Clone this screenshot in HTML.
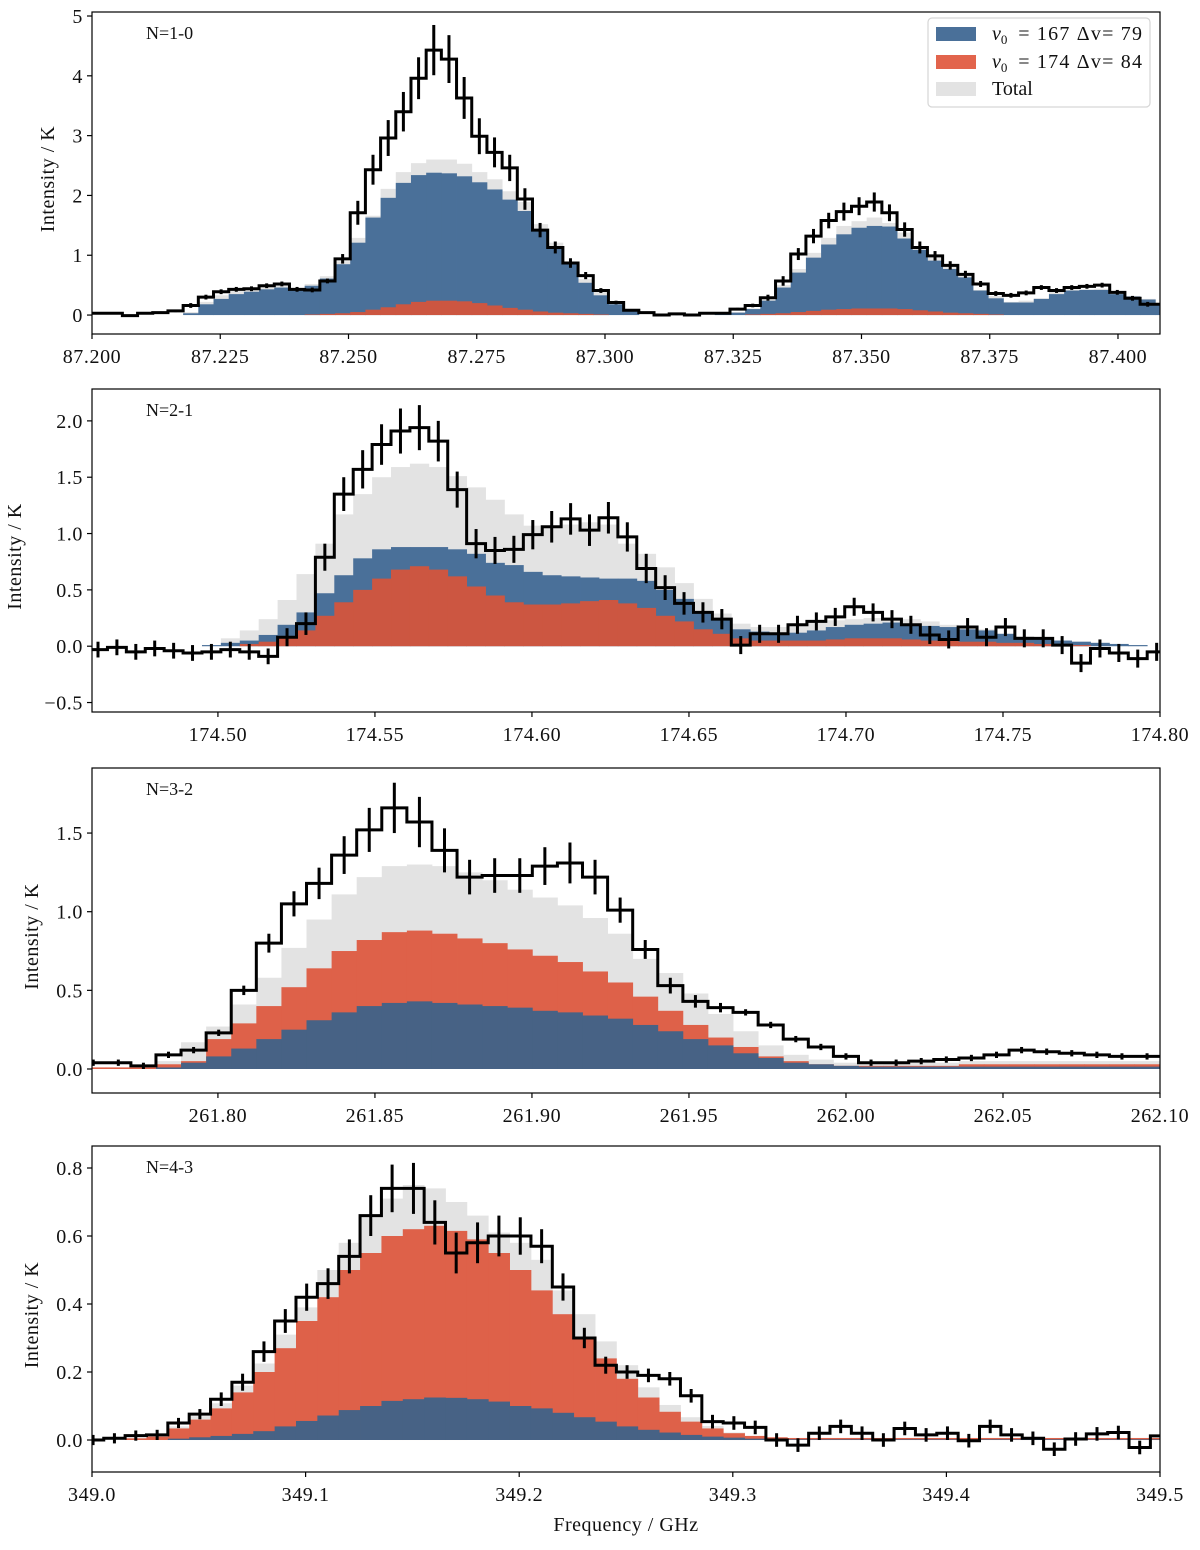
<!DOCTYPE html>
<html><head><meta charset="utf-8">
<style>
html,body{margin:0;padding:0;background:#fff;}
svg text{font-family:"Liberation Serif","DejaVu Serif",serif;fill:#111;}
</style></head>
<body>
<svg id="fig" width="1200" height="1545" viewBox="0 0 1200 1545" xmlns="http://www.w3.org/2000/svg">
<rect x="0" y="0" width="1200" height="1545" fill="#fff"/>
</svg>
<script>
// ---------- Panel 1: N=1-0 ----------
const p1Obs=[0.03,0.03,-0.01,0.03,0.04,0.07,0.16,0.3,0.39,0.43,0.44,0.49,0.52,0.43,0.42,0.57,0.94,1.71,2.43,2.96,3.4,3.96,4.43,4.28,3.63,2.99,2.72,2.46,1.94,1.42,1.13,0.87,0.66,0.41,0.21,0.08,0.04,0,0.02,0,0.03,0.03,0.1,0.16,0.29,0.57,1.02,1.32,1.58,1.73,1.82,1.89,1.71,1.43,1.13,0.99,0.83,0.68,0.52,0.36,0.33,0.37,0.46,0.41,0.46,0.48,0.5,0.38,0.28,0.18,0.18];
const p1Err=[0.02,0.02,0.02,0.02,0.02,0.02,0.04,0.04,0.04,0.04,0.04,0.04,0.04,0.04,0.04,0.04,0.08,0.2,0.25,0.3,0.33,0.35,0.42,0.4,0.35,0.3,0.25,0.22,0.18,0.12,0.1,0.08,0.06,0.04,0.03,0.02,0.02,0.02,0.02,0.02,0.02,0.02,0.02,0.03,0.05,0.08,0.1,0.12,0.13,0.15,0.15,0.16,0.14,0.12,0.1,0.08,0.07,0.06,0.05,0.04,0.04,0.04,0.04,0.04,0.04,0.04,0.04,0.04,0.04,0.04,0.04];
const p1Blue=[0,0,0,0,0,0,0.03,0.18,0.27,0.35,0.39,0.43,0.46,0.41,0.49,0.61,0.85,1.21,1.63,1.96,2.21,2.34,2.38,2.37,2.32,2.22,2.1,1.93,1.74,1.43,1.13,0.85,0.54,0.33,0.18,0.08,0,0,0,0,0,0.02,0.04,0.1,0.24,0.46,0.71,0.96,1.18,1.35,1.46,1.49,1.48,1.28,1.09,0.91,0.77,0.63,0.41,0.28,0.21,0.21,0.27,0.35,0.41,0.42,0.42,0.35,0.31,0.26,0.17];
const p1Red=[0,0,0,0,0,0,0,0,0,0,0,0,0,0,0.01,0.02,0.03,0.05,0.09,0.13,0.18,0.22,0.24,0.24,0.23,0.2,0.16,0.12,0.09,0.06,0.04,0.03,0.02,0.01,0,0,0,0,0,0,0,0,0,0.01,0.02,0.03,0.05,0.07,0.09,0.1,0.11,0.11,0.11,0.1,0.08,0.06,0.04,0.03,0.02,0.01,0,0,0,0,0,0,0,0,0,0,0];
const p1Total=[0,0,0,0,0,0,0.05,0.22,0.33,0.4,0.43,0.47,0.5,0.44,0.52,0.65,0.9,1.29,1.66,2.11,2.39,2.54,2.6,2.6,2.53,2.39,2.27,2.07,1.89,1.52,1.21,0.88,0.6,0.39,0.2,0.09,0,0,0,0,0,0.02,0.05,0.11,0.26,0.5,0.77,1.04,1.29,1.49,1.57,1.63,1.54,1.38,1.14,0.98,0.82,0.66,0.42,0.32,0.22,0.24,0.28,0.39,0.43,0.43,0.44,0.38,0.32,0.27,0.18];
const p1XTicks=["87.200","87.225","87.250","87.275","87.300","87.325","87.350","87.375","87.400"];
const p1YTicks=["0","1","2","3","4","5"];

// ---------- Panel 2: N=2-1 ----------
const p2Obs=[-0.03,-0.01,-0.05,-0.02,-0.04,-0.06,-0.05,-0.03,-0.05,-0.09,0.08,0.2,0.79,1.35,1.57,1.79,1.91,1.94,1.82,1.39,0.91,0.85,0.86,0.99,1.06,1.13,1.03,1.14,0.97,0.69,0.52,0.38,0.3,0.24,0.01,0.11,0.11,0.19,0.22,0.26,0.35,0.3,0.24,0.19,0.1,0.06,0.17,0.08,0.17,0.07,0.07,0.01,-0.15,-0.02,-0.06,-0.11,-0.05,-0.05];
const p2Err=[0.07,0.07,0.07,0.07,0.07,0.07,0.07,0.07,0.07,0.07,0.08,0.1,0.12,0.15,0.17,0.18,0.2,0.2,0.18,0.16,0.13,0.12,0.12,0.13,0.14,0.14,0.14,0.14,0.13,0.13,0.11,0.1,0.09,0.09,0.08,0.08,0.08,0.08,0.08,0.08,0.08,0.08,0.08,0.08,0.08,0.08,0.08,0.08,0.08,0.08,0.08,0.08,0.08,0.08,0.08,0.08,0.08,0.08];
const p2Blue=[0,0,0,0,0,0,0.01,0.03,0.05,0.1,0.19,0.3,0.47,0.63,0.78,0.86,0.88,0.88,0.88,0.86,0.82,0.74,0.72,0.66,0.63,0.62,0.61,0.6,0.6,0.58,0.5,0.42,0.3,0.23,0.15,0.13,0.1,0.12,0.14,0.17,0.19,0.2,0.21,0.19,0.18,0.17,0.15,0.14,0.11,0.08,0.06,0.05,0.04,0.03,0.02,0.01,0,0];
const p2Red=[0,0,0,0,0,0,0,0,0.02,0.04,0.07,0.14,0.27,0.39,0.5,0.6,0.68,0.71,0.68,0.62,0.53,0.45,0.39,0.37,0.37,0.38,0.4,0.41,0.38,0.34,0.27,0.22,0.15,0.11,0.07,0.05,0.05,0.05,0.05,0.06,0.07,0.07,0.07,0.06,0.05,0.05,0.04,0.04,0.03,0.03,0.02,0.02,0.01,0,0,0,0,0];
const p2Total=[0,0,0,0,0,0,0.01,0.07,0.14,0.24,0.41,0.64,0.91,1.17,1.35,1.5,1.59,1.62,1.59,1.51,1.41,1.3,1.17,1.07,1.05,1.08,1.1,1.08,0.91,0.82,0.7,0.56,0.42,0.29,0.2,0.17,0.17,0.19,0.21,0.23,0.24,0.25,0.25,0.24,0.22,0.19,0.17,0.15,0.11,0.09,0.07,0.05,0.04,0.03,0.02,0.01,0,0];
const p2XTicks=["174.50","174.55","174.60","174.65","174.70","174.75","174.80"];
const p2YTicks=["\u22120.5","0.0","0.5","1.0","1.5","2.0"];

// ---------- Panel 3: N=3-2 ----------
const p3Obs=[0.04,0.04,0.02,0.09,0.12,0.23,0.5,0.8,1.05,1.18,1.36,1.52,1.66,1.57,1.39,1.22,1.23,1.23,1.29,1.31,1.22,1.01,0.76,0.53,0.43,0.39,0.36,0.28,0.19,0.14,0.08,0.04,0.04,0.05,0.06,0.07,0.09,0.12,0.11,0.1,0.09,0.08,0.08];
const p3Err=[0.02,0.02,0.02,0.02,0.02,0.02,0.03,0.06,0.08,0.1,0.12,0.14,0.16,0.16,0.14,0.11,0.11,0.11,0.12,0.13,0.11,0.08,0.06,0.05,0.04,0.03,0.02,0.02,0.02,0.02,0.02,0.02,0.02,0.02,0.02,0.02,0.02,0.02,0.02,0.02,0.02,0.02,0.02];
const p3Blue=[0,0,0,0.01,0.04,0.08,0.13,0.19,0.25,0.31,0.36,0.4,0.42,0.43,0.42,0.41,0.4,0.39,0.37,0.36,0.34,0.32,0.28,0.24,0.19,0.15,0.1,0.07,0.04,0.03,0.02,0.015,0.015,0.015,0.015,0.015,0.015,0.015,0.015,0.015,0.015,0.015,0.015];
const p3Red=[0.01,0.01,0.01,0.03,0.05,0.19,0.29,0.4,0.52,0.64,0.75,0.82,0.87,0.88,0.86,0.83,0.8,0.76,0.72,0.68,0.62,0.55,0.46,0.37,0.28,0.2,0.14,0.08,0.05,0.03,0.02,0.02,0.02,0.02,0.02,0.03,0.03,0.03,0.03,0.03,0.03,0.03,0.03];
const p3Total=[0.01,0.01,0.01,0.05,0.17,0.27,0.41,0.58,0.77,0.95,1.11,1.22,1.29,1.3,1.29,1.25,1.2,1.14,1.09,1.04,0.96,0.86,0.7,0.61,0.48,0.35,0.24,0.15,0.09,0.06,0.04,0.03,0.04,0.04,0.04,0.05,0.05,0.05,0.05,0.05,0.05,0.05,0.05];
const p3XTicks=["261.80","261.85","261.90","261.95","262.00","262.05","262.10"];
const p3YTicks=["0.0","0.5","1.0","1.5"];

// ---------- Panel 4: N=4-3 ----------
const p4Obs=[0,0.005,0.013,0.015,0.05,0.076,0.12,0.17,0.26,0.35,0.42,0.46,0.54,0.66,0.74,0.74,0.64,0.55,0.58,0.6,0.6,0.57,0.45,0.3,0.22,0.2,0.19,0.18,0.13,0.054,0.05,0.037,0,-0.015,0.02,0.04,0.02,0,0.034,0.015,0.02,-0.002,0.04,0.015,0.005,-0.027,0.003,0.018,0.022,-0.022,0.012];
const p4Err=[0.015,0.015,0.015,0.015,0.015,0.015,0.02,0.025,0.03,0.035,0.04,0.045,0.05,0.06,0.07,0.075,0.065,0.06,0.06,0.06,0.055,0.05,0.04,0.03,0.025,0.02,0.02,0.02,0.02,0.02,0.02,0.02,0.02,0.02,0.02,0.02,0.02,0.02,0.02,0.02,0.02,0.02,0.02,0.02,0.02,0.02,0.02,0.02,0.02,0.02,0.02];
const p4Blue=[0,0,0,0,0.004,0.008,0.012,0.018,0.026,0.04,0.056,0.072,0.088,0.1,0.115,0.12,0.125,0.124,0.12,0.113,0.1,0.093,0.08,0.067,0.054,0.04,0.03,0.022,0.015,0.01,0.007,0.004,0.002,0.002,0.002,0.002,0.002,0.002,0.002,0.002,0.002,0.002,0.002,0.002,0.002,0.002,0.002,0.002,0.002,0.002,0.002];
const p4Red=[0,0,0.005,0.01,0.034,0.06,0.093,0.14,0.2,0.27,0.35,0.42,0.5,0.55,0.6,0.62,0.63,0.615,0.59,0.55,0.5,0.44,0.37,0.3,0.24,0.18,0.125,0.083,0.054,0.034,0.02,0.012,0.008,0.006,0.006,0.006,0.006,0.006,0.006,0.006,0.006,0.006,0.006,0.006,0.006,0.006,0.006,0.006,0.006,0.006,0.006];
const p4Total=[0.005,0.005,0.005,0.005,0.04,0.07,0.108,0.16,0.225,0.31,0.39,0.5,0.58,0.66,0.71,0.75,0.74,0.7,0.66,0.61,0.58,0.53,0.44,0.37,0.29,0.22,0.155,0.103,0.067,0.041,0.022,0.012,0.006,0.006,0.006,0.006,0.006,0.006,0.006,0.006,0.006,0.006,0.006,0.006,0.006,0.006,0.006,0.006,0.006,0.006,0.006];
const p4XTicks=["349.0","349.1","349.2","349.3","349.4","349.5"];
const p4YTicks=["0.0","0.2","0.4","0.6","0.8"];

const NS="http://www.w3.org/2000/svg";
const svg=document.getElementById('fig');
function mk(tag,attrs,parent){const e=document.createElementNS(NS,tag);for(const k in attrs)e.setAttribute(k,attrs[k]);(parent||svg).appendChild(e);return e;}

const panels=[
 {id:1,label:"N=1-0",top:12,bot:334,xmin:87.200,xmax:87.40819,ymin:-0.3167,ymax:5.067,bin0:87.200,bw:0.002961,
  obs:p1Obs,err:p1Err,blue:p1Blue,red:p1Red,total:p1Total,xt:p1XTicks,yt:p1YTicks,redTop:true,blueC:"#4a7099",redC:"#cc5641",ylx:48},
 {id:2,label:"N=2-1",top:389,bot:712,xmin:174.4599,xmax:174.80,ymin:-0.584,ymax:2.283,bin0:174.4588,bw:0.00602,
  obs:p2Obs,err:p2Err,blue:p2Blue,red:p2Red,total:p2Total,xt:p2XTicks,yt:p2YTicks,redTop:true,blueC:"#4a7099",redC:"#cc5641",ylx:15},
 {id:3,label:"N=3-2",top:768,bot:1093,xmin:261.7599,xmax:262.10,ymin:-0.1526,ymax:1.9136,bin0:261.7563,bw:0.00799,
  obs:p3Obs,err:p3Err,blue:p3Blue,red:p3Red,total:p3Total,xt:p3XTicks,yt:p3YTicks,redTop:false,blueC:"#476285",redC:"#de6149",ylx:32},
 {id:4,label:"N=4-3",top:1146,bot:1472,xmin:349.0,xmax:349.5,ymin:-0.0941,ymax:0.8647,bin0:348.9955,bw:0.01,
  obs:p4Obs,err:p4Err,blue:p4Blue,red:p4Red,total:p4Total,xt:p4XTicks,yt:p4YTicks,redTop:false,blueC:"#476285",redC:"#de6149",ylx:32}
];
const L=92,R=1160;
const defs=mk('defs',{});
panels.forEach(p=>{
  const X=f=>L+(f-p.xmin)/(p.xmax-p.xmin)*(R-L);
  const Y=v=>p.bot-(v-p.ymin)/(p.ymax-p.ymin)*(p.bot-p.top);
  const cp=mk('clipPath',{id:'clip'+p.id},defs);
  mk('rect',{x:L,y:p.top,width:R-L,height:p.bot-p.top},cp);
  const g=mk('g',{'clip-path':'url(#clip'+p.id+')'});
  
  
  function bars(arr,color,name){
    const gg=mk('g',{fill:color},g);
    
    
    arr.forEach((v,i)=>{
      const x0=X(p.bin0+i*p.bw),x1=X(p.bin0+(i+1)*p.bw);
      const y0=Y(0),yv=Y(v);
      const r=mk('rect',{x:x0.toFixed(2),y:Math.min(y0,yv).toFixed(2),width:(x1-x0+0.4).toFixed(2),height:Math.abs(y0-yv).toFixed(2)},gg);
      
      
    });
  }
  bars(p.total,'#e3e3e3','total-model');
  if(p.redTop){bars(p.blue,p.blueC,'component-v167');bars(p.red,p.redC,'component-v174');}
  else{bars(p.red,p.redC,'component-v174');bars(p.blue,p.blueC,'component-v167');}
  let d='';
  p.obs.forEach((v,i)=>{
    const x0=X(p.bin0+i*p.bw),x1=X(p.bin0+(i+1)*p.bw),y=Y(v);
    d+=(i===0?'M':'L')+x0.toFixed(2)+','+y.toFixed(2)+'L'+x1.toFixed(2)+','+y.toFixed(2);
  });
  const st=mk('path',{d:d,fill:'none',stroke:'#000','stroke-width':3,'stroke-linejoin':'miter'},g);
  
  
  p.obs.forEach((v,i)=>{
    const xc=X(p.bin0+(i+0.5)*p.bw);
    const e=mk('line',{x1:xc.toFixed(2),x2:xc.toFixed(2),y1:Y(v-p.err[i]).toFixed(2),y2:Y(v+p.err[i]).toFixed(2),stroke:'#000','stroke-width':3},g);
    
    
  });
  const fr=mk('rect',{x:L,y:p.top,width:R-L,height:p.bot-p.top,fill:'none',stroke:'#000','stroke-width':1.2});
  
  
  p.xt.forEach(t=>{
    const x=X(parseFloat(t));
    mk('line',{x1:x,x2:x,y1:p.bot,y2:p.bot+5,stroke:'#000','stroke-width':1.2});
    const tx=mk('text',{x:x,y:p.bot+29,'text-anchor':'middle','font-size':20,'letter-spacing':0.6});
    tx.textContent=t;
    
    
  });
  p.yt.forEach(t=>{
    const y=Y(parseFloat(t.replace('\u2212','-')));
    mk('line',{x1:L-5,x2:L,y1:y,y2:y,stroke:'#000','stroke-width':1.2});
    const tx=mk('text',{x:L-9,y:y+7,'text-anchor':'end','font-size':20,'letter-spacing':0.6});
    tx.textContent=t;
    
    
  });
  const cy=(p.top+p.bot)/2;
  const yl=mk('text',{x:p.ylx,y:cy,'text-anchor':'middle','font-size':20,'letter-spacing':0.5,transform:'rotate(-90 '+(p.ylx+6)+' '+cy+')'});
  yl.textContent='Intensity / K';
  
  
  const lb=mk('text',{x:146,y:p.top+27,'font-size':18});
  lb.textContent=p.label;
  
  
});
const xl=mk('text',{x:626,y:1531,'text-anchor':'middle','font-size':20,'letter-spacing':0.5});
xl.textContent='Frequency / GHz';



const lg=mk('g',{});


mk('rect',{x:928,y:18,width:222,height:89,rx:4,fill:'#fff','fill-opacity':0.85,stroke:'#d6d6d6','stroke-width':1.2},lg);
const legItems=[{c:'#4a7099',t:['167','79'],y:27},{c:'#e2644c',t:['174','84'],y:55},{c:'#e3e3e3',t:null,y:82}];
legItems.forEach(it=>{
  const sw=mk('rect',{x:936,y:it.y,width:40,height:14,fill:it.c},lg);
  
  
  const tx=mk('text',{x:992,y:it.y+13,'font-size':20},lg);
  
  
  if(it.t){
    tx.innerHTML='<tspan font-style="italic">v</tspan><tspan font-size="13" dy="4">0</tspan><tspan dy="-4" x="1012"> =  '+it.t[0]+'  \u0394v=  '+it.t[1]+'</tspan>';
    tx.lastChild.setAttribute('textLength','130');
    tx.lastChild.setAttribute('lengthAdjust','spacing');
  } else tx.textContent='Total';
});
</script>
</body></html>
